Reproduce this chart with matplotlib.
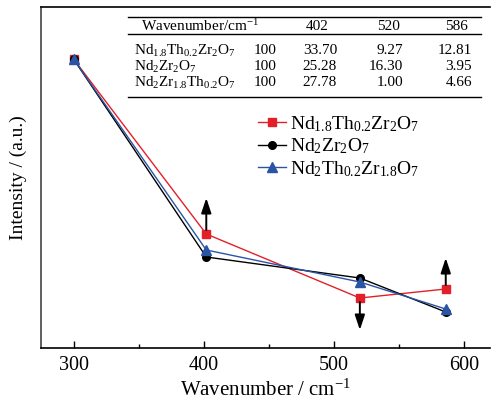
import matplotlib
matplotlib.use("Agg")
import matplotlib.pyplot as plt
from matplotlib.lines import Line2D
from matplotlib.ticker import MultipleLocator

plt.rcParams['font.family'] = ['Liberation Serif', 'DejaVu Serif']
plt.rcParams['mathtext.fontset'] = 'custom'
plt.rcParams['mathtext.rm'] = 'Liberation Serif'
plt.rcParams['mathtext.it'] = 'Liberation Serif:italic'
plt.rcParams['mathtext.bf'] = 'Liberation Serif:bold'

# ---- data ----
wavenumber = [300, 402, 520, 586]
nd18th = [289, 114, 50, 59]
nd2zr2 = [289, 91, 70, 36]
nd2th = [289, 98, 66, 39]

labels = [r'Nd$_{1.8}$Th$_{0.2}$Zr$_2$O$_7$',
          r'Nd$_2$Zr$_2$O$_7$',
          r'Nd$_2$Th$_{0.2}$Zr$_{1.8}$O$_7$']
table_labels = [r'Nd$_{1.8}$Th$_{0.2}$Zr$_2$O$_7$',
                r'Nd$_2$Zr$_2$O$_7$',
                r'Nd$_2$Zr$_{1.8}$Th$_{0.2}$O$_7$']
table_header = ['402', '520', '586']
table_ref = ['100', '100', '100']
table_vals = [['33.70', '9.27', '12.81'],
              ['25.28', '16.30', '3.95'],
              ['27.78', '1.00', '4.66']]

# arrows: (x, start, end)
arrows = [(402, 114, 150), (520, 50, 18), (586, 59, 90)]

W, H = 491, 408
fig = plt.figure(figsize=(W / 100, H / 100), dpi=100)
ax = fig.add_axes([41 / W, 1 - 348 / H, 449 / W, 341 / H])

red = '#e3202a'
blue = '#2a55a5'
ax.plot(wavenumber, nd18th, color=red, marker='s', ms=5.5, lw=1.0, label=labels[0])
ax.plot(wavenumber, nd2zr2, color='black', marker='o', ms=5.5, lw=1.0, label=labels[1])
ax.plot(wavenumber, nd2th, color=blue, marker='^', ms=6.5, lw=1.0, label=labels[2])

for x, y0, y1 in arrows:
    sign = 1 if y1 > y0 else -1
    ax.annotate('', xy=(x, y1), xytext=(x, y0 + sign * 4),
                arrowprops=dict(arrowstyle='-|>,head_length=0.9,head_width=0.3',
                                color='black', lw=1.4, shrinkA=0, shrinkB=0))

ax.set_xlim(275, 620)
ax.set_ylim(0, 341)
ax.xaxis.set_major_locator(MultipleLocator(100))
ax.xaxis.set_minor_locator(MultipleLocator(50))
ax.tick_params(axis='x', which='major', direction='in', length=5, width=1, labelsize=14.5, pad=6)
ax.tick_params(axis='x', which='minor', direction='in', length=3, width=1)
ax.set_yticks([])
ax.spines['right'].set_visible(False)
for s in ['left', 'bottom', 'top']:
    ax.spines[s].set_linewidth(1.2)
ax.spines['left'].set_color('#444444')

ax.set_xlabel(r'Wavenumber / cm$^{-1}$', fontsize=15, labelpad=3)
ax.set_ylabel('Intensity / (a.u.)', fontsize=14, labelpad=10)

leg = ax.legend(loc='upper left', bbox_to_anchor=((258 - 41) / 449, (348 - 114) / 341),
                frameon=False, fontsize=14, handlelength=1.45, handletextpad=0.2,
                labelspacing=0.15, borderaxespad=0, borderpad=0)

# ---- table ----
def fx(px):
    return px / W

def fy(py):
    return 1 - py / H

for py in (17, 34, 97):
    fig.add_artist(Line2D([fx(128), fx(481)], [fy(py), fy(py)], color='black', lw=1))

tfs = 11
fig.text(fx(141), fy(26), r'Wavenumber/cm$^{-1}$', fontsize=tfs, va='center', ha='left')
for txt, cx in zip(table_header, (317, 389, 457)):
    fig.text(fx(cx), fy(26), txt, fontsize=tfs, va='center', ha='center')
for i, py in enumerate((51, 67, 83)):
    fig.text(fx(134), fy(py), table_labels[i], fontsize=tfs, va='center', ha='left')
    fig.text(fx(277), fy(py), table_ref[i], fontsize=tfs, va='center', ha='right')
    for txt, rx in zip(table_vals[i], (337, 403, 472)):
        fig.text(fx(rx), fy(py), txt, fontsize=tfs, va='center', ha='right')

fig.savefig('out.png', dpi=100)
